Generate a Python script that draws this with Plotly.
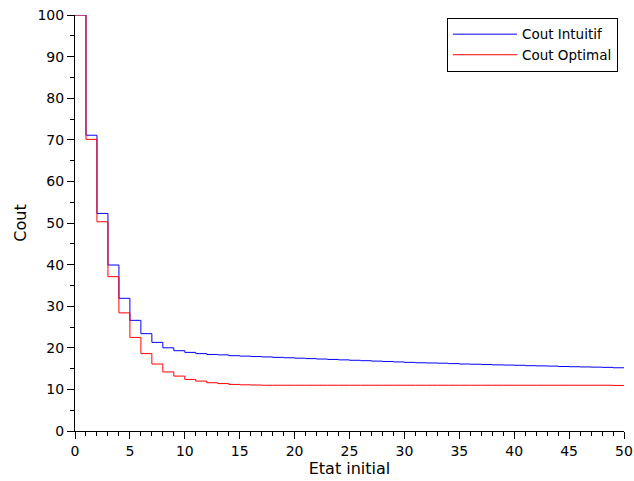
import plotly.graph_objects as go

etat = list(range(0, 51))
cout_intuitif = [100, 71.1, 52.3, 39.9, 31.9, 26.6, 23.4, 21.3, 20.0, 19.3,
                 18.9, 18.6, 18.4, 18.3, 18.1, 18.0, 17.9, 17.8, 17.7, 17.6,
                 17.5, 17.4, 17.3, 17.2, 17.1, 17.0, 16.9, 16.8, 16.7, 16.6,
                 16.5, 16.4, 16.35, 16.3, 16.2, 16.1, 16.05, 16.0, 15.9, 15.85,
                 15.8, 15.7, 15.65, 15.6, 15.5, 15.45, 15.4, 15.35, 15.3, 15.2,
                 15.2]
cout_optimal = [100, 70.1, 50.3, 37.1, 28.4, 22.5, 18.6, 16.1, 14.2, 13.2,
                12.4, 12.0, 11.6, 11.4, 11.2, 11.1, 11.05, 11.0, 11.0, 11.0,
                11.0, 11.0, 11.0, 11.0, 11.0, 11.0, 11.0, 11.0, 11.0, 11.0,
                11.0, 11.0, 11.0, 11.0, 11.0, 11.0, 11.0, 11.0, 11.0, 11.0,
                11.0, 11.0, 11.0, 11.0, 11.0, 11.0, 11.0, 11.0, 11.0, 10.95,
                10.95]

font_family = "DejaVu Sans"

fig = go.Figure()
fig.add_trace(go.Scatter(x=etat, y=cout_intuitif, mode="lines", name="Cout Intuitif",
                         line=dict(color="#0000ff", width=1, shape="hv"), cliponaxis=False))
fig.add_trace(go.Scatter(x=etat, y=cout_optimal, mode="lines", name="Cout Optimal",
                         line=dict(color="#ff0000", width=1, shape="hv"), cliponaxis=False))

axis_common = dict(showline=True, linecolor="black", linewidth=1, showgrid=False,
                   zeroline=False, ticks="outside", ticklen=7, tickwidth=1, automargin=False,
                   tickcolor="black", tickfont=dict(family=font_family, size=14, color="black"))

fig.update_xaxes(range=[0, 50], dtick=5, tick0=0,
                 minor=dict(dtick=1, ticks="outside", ticklen=4, tickcolor="black", showgrid=False),
                 title=dict(text="Etat initial", font=dict(family=font_family, size=16, color="black"),
                            standoff=4),
                 **axis_common)
fig.update_yaxes(range=[0, 100], dtick=10, tick0=0,
                 minor=dict(dtick=5, ticks="outside", ticklen=4, tickcolor="black", showgrid=False),
                 title=dict(text="Cout", font=dict(family=font_family, size=16, color="black"),
                            standoff=6),
                 **axis_common)

fig.update_layout(
    width=634, height=481,
    margin=dict(l=75, r=10, t=15, b=50),
    plot_bgcolor="white", paper_bgcolor="white",
    showlegend=True,
    legend=dict(x=0.989, xanchor="right", y=0.993, yanchor="top",
                bordercolor="black", borderwidth=1, bgcolor="white",
                font=dict(family=font_family, size=13.5, color="black"),
                tracegroupgap=0, itemwidth=64),
)

fig.write_html("out.html",
               config={"displayModeBar": False},
               post_script="document.body.style.margin='0';document.body.style.overflow='hidden';")
